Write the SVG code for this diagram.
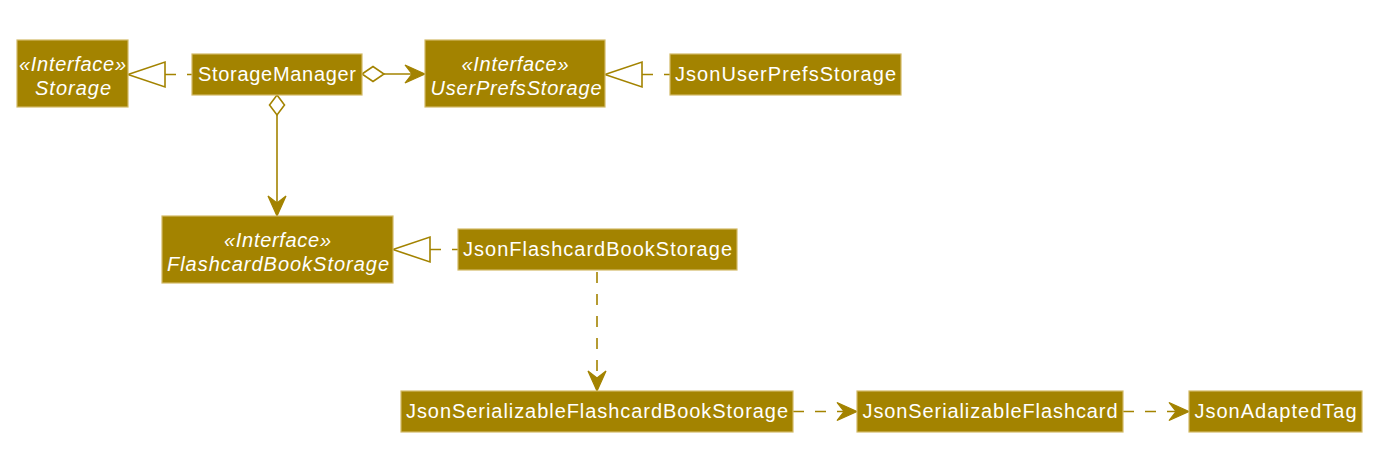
<svg xmlns="http://www.w3.org/2000/svg" width="1396" height="469" viewBox="0 0 1396 469">
<style>
.box{fill:#A38300;stroke:#D2BA66;stroke-width:1.2}
.t{font-family:"Liberation Sans",Arial,sans-serif;font-size:20px;fill:#FFFFFF;text-anchor:middle}
.i{font-style:italic}
.ln{stroke:#A38300;stroke-width:1.6;fill:none}
.dash{stroke-dasharray:11,11}
.open{fill:#FFFFFF;stroke:#A38300;stroke-width:1.6}
.head{fill:#A38300;stroke:#A38300;stroke-width:1.2;stroke-linejoin:miter}
</style>
<rect width="1396" height="469" fill="#FFFFFF"/>
<g id="connectors">
  <!-- StorageManager realizes Storage -->
  <line class="ln dash" x1="165" y1="74.5" x2="192" y2="74.5" stroke-dasharray="13,12"/>
  <polygon class="open" points="128,74.5 165,62 165,87"/>
  <!-- JsonUserPrefsStorage realizes UserPrefsStorage -->
  <line class="ln dash" x1="642" y1="74.5" x2="670" y2="74.5" stroke-dasharray="13,12"/>
  <polygon class="open" points="605,74.5 642,62 642,87"/>
  <!-- StorageManager aggregation to UserPrefsStorage -->
  <line class="ln" x1="384" y1="74" x2="424" y2="74"/>
  <polygon class="open" points="362,74 373,66.5 384,74 373,81.5"/>
  <polygon class="head" points="425,74 405,65 412,74 405,83"/>
  <!-- StorageManager aggregation to FlashcardBookStorage -->
  <line class="ln" x1="277" y1="115" x2="277" y2="214"/>
  <polygon class="open" points="277,95 284.5,105 277,115 269.5,105"/>
  <polygon class="head" points="277,216 268,196 277,203 286,196"/>
  <!-- JsonFlashcardBookStorage realizes FlashcardBookStorage -->
  <line class="ln dash" x1="430" y1="249.5" x2="458" y2="249.5" stroke-dasharray="13,12"/>
  <polygon class="open" points="393,249.5 430,237 430,262"/>
  <!-- JsonFlashcardBookStorage depends on JsonSerializableFlashcardBookStorage -->
  <line class="ln dash" x1="597" y1="272" x2="597" y2="385"/>
  <polygon class="head" points="597,391 588,371 597,378 606,371"/>
  <!-- JsonSerializableFlashcardBookStorage to JsonSerializableFlashcard -->
  <line class="ln dash" x1="793" y1="411.5" x2="850" y2="411.5" stroke-dasharray="12,13"/>
  <polygon class="head" points="857,411.5 837,402.5 844,411.5 837,420.5"/>
  <!-- JsonSerializableFlashcard to JsonAdaptedTag -->
  <line class="ln dash" x1="1123" y1="411.5" x2="1182" y2="411.5" stroke-dasharray="12,13"/>
  <polygon class="head" points="1189,411.5 1169,402.5 1176,411.5 1169,420.5"/>
</g>
<g id="Storage">
  <rect class="box" x="17" y="40" width="111" height="67"/>
  <text class="t i" x="72.5" y="71" textLength="107" lengthAdjust="spacing">«Interface»</text>
  <text class="t i" x="73" y="95" textLength="76" lengthAdjust="spacing">Storage</text>
</g>
<g id="StorageManager">
  <rect class="box" x="192" y="54" width="170" height="41"/>
  <text class="t" x="277" y="81" textLength="158" lengthAdjust="spacing">StorageManager</text>
</g>
<g id="UserPrefsStorage">
  <rect class="box" x="425" y="40" width="180" height="67"/>
  <text class="t i" x="515" y="71" textLength="107" lengthAdjust="spacing">«Interface»</text>
  <text class="t i" x="516" y="95" textLength="171" lengthAdjust="spacing">UserPrefsStorage</text>
</g>
<g id="JsonUserPrefsStorage">
  <rect class="box" x="670" y="54" width="231" height="41"/>
  <text class="t" x="785.5" y="81" textLength="221" lengthAdjust="spacing">JsonUserPrefsStorage</text>
</g>
<g id="FlashcardBookStorage">
  <rect class="box" x="162" y="216" width="231" height="67"/>
  <text class="t i" x="277.5" y="247" textLength="107" lengthAdjust="spacing">«Interface»</text>
  <text class="t i" x="278" y="271" textLength="222" lengthAdjust="spacing">FlashcardBookStorage</text>
</g>
<g id="JsonFlashcardBookStorage">
  <rect class="box" x="458" y="229" width="279" height="41"/>
  <text class="t" x="597.5" y="256" textLength="269" lengthAdjust="spacing">JsonFlashcardBookStorage</text>
</g>
<g id="JsonSerializableFlashcardBookStorage">
  <rect class="box" x="401" y="391" width="392" height="41"/>
  <text class="t" x="597" y="418" textLength="382" lengthAdjust="spacing">JsonSerializableFlashcardBookStorage</text>
</g>
<g id="JsonSerializableFlashcard">
  <rect class="box" x="857" y="391" width="266" height="41"/>
  <text class="t" x="990" y="418" textLength="255" lengthAdjust="spacing">JsonSerializableFlashcard</text>
</g>
<g id="JsonAdaptedTag">
  <rect class="box" x="1189" y="391" width="173" height="41"/>
  <text class="t" x="1275.5" y="418" textLength="162" lengthAdjust="spacing">JsonAdaptedTag</text>
</g>
</svg>
